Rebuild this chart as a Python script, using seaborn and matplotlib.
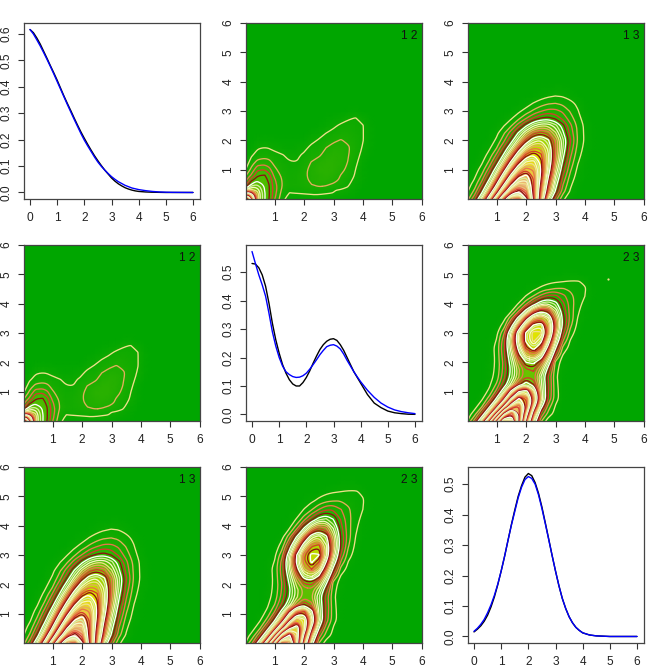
import numpy as np
import matplotlib
matplotlib.use("Agg")
import matplotlib.pyplot as plt
from matplotlib.colors import LinearSegmentedColormap
import seaborn as sns

# marginal curves
line_x = [0, .125, .25, .375, .5, .625, .75, .875, 1, 1.125, 1.25, 1.375, 1.5, 1.625, 1.75, 1.875, 2,
          2.125, 2.25, 2.375, 2.5, 2.625, 2.75, 2.875, 3, 3.125, 3.25, 3.375, 3.5, 3.625, 3.75, 3.875, 4,
          4.25, 4.5, 4.75, 5, 5.25, 5.5, 5.75, 6]
var1_black = [.617, .605, .585, .562, .535, .508, .48, .453, .425, .395, .365, .337, .31, .282, .255, .229, .205,
              .182, .16, .139, .12, .102, .085, .07, .055, .043, .033, .025, .018, .013, .009, .006, .004,
              .002, .001, .0005, 0, 0, 0, 0, 0]
var1_blue = [.617, .6, .578, .555, .53, .504, .477, .449, .42, .391, .362, .333, .305, .277, .25, .223, .198,
             .176, .155, .134, .115, .099, .085, .072, .06, .05, .041, .034, .027, .022, .017, .014, .011,
             .007, .004, .002, .001, .0005, .0003, .0001, 0]
var2_black = [.53, .528, .515, .49, .45, .39, .32, .262, .215, .175, .145, .122, .107, .1, .1, .112, .13,
              .153, .18, .205, .228, .245, .257, .264, .266, .26, .245, .225, .2, .175, .15, .13, .11,
              .07, .04, .024, .012, .006, .003, .001, .0005]
var2_blue = [.572, .53, .49, .455, .415, .355, .29, .24, .2, .17, .15, .14, .133, .13, .131, .136, .145,
             .159, .175, .192, .21, .225, .238, .243, .245, .24, .23, .212, .19, .17, .15, .132, .115,
             .085, .06, .04, .026, .016, .01, .006, .003]
var3_black = [.015, .024, .035, .05, .07, .097, .13, .17, .215, .263, .315, .367, .415, .46, .495, .523, .535,
              .528, .505, .47, .425, .373, .32, .266, .215, .167, .125, .092, .065, .045, .03, .02, .012,
              .005, .002, .001, 0, 0, 0, 0, 0]
var3_blue = [.017, .027, .04, .056, .078, .104, .135, .172, .215, .263, .315, .365, .41, .455, .49, .515, .525,
             .519, .5, .465, .42, .37, .318, .266, .215, .167, .125, .092, .065, .045, .03, .02, .012,
             .005, .002, .001, 0, 0, 0, 0, 0]

# joint surfaces, in contour level units
x_nodes = [0, .25, .5, .75, 1, 1.25, 1.5, 1.75, 2, 2.25, 2.5, 2.75, 3, 3.25, 3.5, 3.75, 4, 4.25, 4.5]

y13 = [0, .25, .5, .75, 1, 1.25, 1.5, 1.75, 2, 2.25, 2.5, 2.75, 3, 3.25, 3.5, 3.75, 4, 4.25]
y13_low = [0, .27, .55, .82, 1.1, 1.37, 1.65, 1.92, 2.2, 2.47, 2.75, 3.02, 3.3, 3.57, 3.87, 4.12, 4.4, 4.67]
rows13 = [
    [1.6, 4, 8.8, 16.4, 26.3, 36, 42.8, 43.5, 37.9, 28.4, 18, 8, 3.5, 1.2, .4, .1, .02, 0, 0],
    [.9, 2.4, 5.7, 11.2, 19.2, 28, 35.2, 38, 35.2, 28, 19.2, 11.2, 5.7, 2.4, .9, .3, .08, 0, 0],
    [.52, 1.5, 3.7, 7.8, 14, 22, 29.3, 33.6, 33.1, 28, 20.3, 12.6, 6.8, 3.1, 1.2, .4, .13, 0, 0],
    [.3, .9, 2.4, 5.4, 10.3, 17, 24.2, 29.5, 30.9, 27.8, 21.4, 14.2, 8.1, 3.9, 1.65, .6, .2, 0, 0],
    [.1, .54, 1.5, 3.6, 7.3, 12.8, 19.3, 25, 27.9, 26.7, 21.9, 15.4, 9.3, 4.8, 2.2, .82, .27, 0, 0],
    [.05, .3, .9, 2.3, 5, 9.3, 14.9, 20.6, 24.3, 24.7, 21.5, 16.1, 10.4, 5.7, 2.7, 1.1, .38, .1, 0],
    [.02, .17, .52, 1.4, 3.3, 6.5, 11, 16.2, 20.4, 22, 20.4, 16.2, 11.1, 6.5, 3.3, 1.4, .52, .15, 0],
    [0, .09, .3, .83, 2, 4.4, 7.9, 12.3, 16.4, 18.8, 18.5, 15.6, 11.3, 7.1, 3.8, 1.74, .68, .23, 0],
    [0, .04, .15, .47, 1.2, 2.8, 5.3, 8.8, 12.5, 15.2, 16, 14.3, 11, 7.3, 4.2, 2, .85, .3, 0],
    [0, 0, .1, .3, .8, 1.9, 3.7, 6.3, 9.2, 11.6, 12.5, 11.6, 9.2, 6.3, 3.7, 1.9, .8, .3, 0],
    [0, 0, 0, .14, .4, 1, 2, 3.7, 5.8, 7.8, 8.9, 8.8, 7.4, 5.4, 3.3, 1.8, .8, .3, 0],
    [0, 0, 0, 0, .16, .42, .93, 1.8, 3, 4.2, 5.1, 5.4, 4.8, 3.7, 2.5, 1.4, .55, .15, 0],
    [0, 0, 0, 0, 0, .1, .3, .78, 1.4, 2.2, 2.9, 3.35, 3.3, 2.8, 1.9, 1.1, .4, .1, 0],
    [0, 0, 0, 0, 0, 0, .13, .3, .55, 1.1, 1.55, 1.95, 2.05, 1.8, 1.35, .8, .25, 0, 0],
    [0, 0, 0, 0, 0, 0, 0, 0, .15, .3, .6, .88, 1.04, .95, .65, .3, .1, 0, 0],
    [0, 0, 0, 0, 0, 0, 0, 0, 0, .1, .2, .33, .42, .4, .25, .1, .03, 0, 0],
    [0, 0, 0, 0, 0, 0, 0, 0, 0, 0, 0, .1, .13, .12, .08, 0, 0, 0, 0],
    [0, 0, 0, 0, 0, 0, 0, 0, 0, 0, 0, 0, 0, 0, 0, 0, 0, 0, 0],
]

y23 = [0, .25, .5, .75, 1, 1.25, 1.5, 1.75, 2, 2.25, 2.5, 2.75, 3, 3.25, 3.5, 3.75, 4, 4.25, 4.5, 4.75, 5, 5.25]
y23_low = [0, .26, .52, .78, 1.05, 1.31, 1.57, 1.82, 2.06, 2.3, 2.53, 2.77, 3, 3.31, 3.62, 3.92, 4.23, 4.54, 4.85, 5.16, 5.47, 5.78]
rows23 = [
    [1, 3.5, 9, 20, 36, 50, 49, 36, 20, 8, 2.2, .4, .05, 0, 0, 0, 0, 0, 0],
    [.4, 1.6, 4.5, 10.5, 22, 37, 44, 37, 24, 11.5, 4, 1.7, .6, .1, 0, 0, 0, 0, 0],
    [.1, .6, 2, 5.5, 12, 22, 33, 36, 28, 16, 7, 2.6, .9, .2, .05, 0, 0, 0, 0],
    [0, .2, .9, 2.6, 6.5, 13, 23, 30.5, 28, 19, 9.5, 4, 1.4, .4, .1, 0, 0, 0, 0],
    [0, .05, .4, 1.3, 3.5, 8, 15, 22, 23.5, 17, 9, 4.2, 1.4, .4, .1, 0, 0, 0, 0],
    [0, 0, .2, .8, 2.2, 4.8, 8.5, 12.5, 15, 13, 8.5, 4.3, 1.3, .35, .08, 0, 0, 0, 0],
    [0, 0, .1, .55, 1.5, 3.8, 6.8, 10, 12, 11.5, 8, 4, 1.2, .35, .1, 0, 0, 0, 0],
    [0, 0, .08, .5, 1.3, 3.5, 6.5, 9.8, 11.8, 12.2, 9.5, 5.2, 1.3, .5, .15, 0, 0, 0, 0],
    [0, 0, .06, .45, 1.25, 3.4, 7, 11, 14, 14.5, 12, 7.3, 1.7, .5, .15, .05, 0, 0, 0],
    [0, 0, .05, .4, 1.3, 3.8, 8, 13, 17.5, 19, 16, 10, 4, 1, .35, .1, 0, 0, 0],
    [0, 0, .04, .4, 1.4, 4, 9, 15, 20.5, 23, 20, 13, 6.2, 1.8, .65, .15, 0, 0, 0],
    [0, 0, .02, .25, 1.1, 3.8, 9.5, 16.5, 22.5, 25.5, 23, 16, 8.4, 3.2, 1, .25, .05, 0, 0],
    [0, 0, 0, .1, .8, 3, 8.5, 16, 22.5, 25.7, 25.3, 18.5, 10.3, 4.4, 1.6, .45, .1, 0, 0],
    [0, 0, 0, 0, .3, 1.6, 5.5, 11.5, 18, 22.5, 23.5, 18.5, 11.5, 5.6, 2.3, .75, .2, 0, 0],
    [0, 0, 0, 0, .1, .7, 2.9, 7, 12.5, 17.5, 19, 16.5, 10.8, 5.6, 2.7, 1, .3, .05, 0],
    [0, 0, 0, 0, 0, .2, .9, 3, 6.8, 11, 13.5, 12.5, 8.8, 5, 2.6, 1.2, .4, .1, 0],
    [0, 0, 0, 0, 0, 0, .3, 1.1, 2.8, 5, 7.3, 8, 6.6, 4.3, 2.6, 1.4, .7, .15, 0],
    [0, 0, 0, 0, 0, 0, .05, .3, 1.1, 2.1, 3.4, 4.4, 4.4, 3.4, 2.4, 1.5, 1, .25, 0],
    [0, 0, 0, 0, 0, 0, 0, .05, .3, .75, 1.3, 1.85, 2.1, 2.1, 1.8, 1.4, 1.1, .3, 0],
    [0, 0, 0, 0, 0, 0, 0, 0, .05, .2, .4, .65, .88, 1, 1.08, 1.08, .85, .2, 0],
    [0, 0, 0, 0, 0, 0, 0, 0, 0, 0, .05, .1, .15, .25, .3, .3, .15, .05, 0],
    [0, 0, 0, 0, 0, 0, 0, 0, 0, 0, 0, 0, 0, 0, 0, 0, 0, 0, 0],
]

# panel 12 has a sharp corner, so its nodes are tighter there; one list per x
x12 = [0, .1, .2, .3, .4, .5, .65, .8, 1, 1.25, 1.5, 1.75, 2, 2.25, 2.5, 2.75, 3, 3.25, 3.5, 3.75, 4, 4.25, 4.5]
x12_low = [0, .1, .2, .3, .4, .5, .65, .8, 1, 1.23, 1.46, 1.7, 1.94, 2.18, 2.43, 2.67, 2.92, 3.16, 3.4, 3.65, 3.89, 4.13, 4.37]
y12 = [0, .1, .2, .3, .4, .5, .65, .8, 1, 1.25, 1.5, 1.75, 2, 2.25, 2.5, 2.75, 3, 3.25]
y12_low = [0, .1, .2, .3, .39, .48, .62, .76, .95, 1.18, 1.41, 1.64, 1.87, 2.1, 2.33, 2.56, 2.79, 3.02]
cols12 = [
    [32, 22, 14, 8, 5.2, 3.6, 2.6, 1.85, .97, .4, .15, .05, 0, 0, 0, 0, 0, 0],
    [26, 21, 14.5, 9.5, 6.5, 4.8, 3.5, 2.6, 1.6, .9, .4, .1, 0, 0, 0, 0, 0, 0],
    [20, 17, 13, 9.5, 7.7, 6, 4.7, 3.2, 2.3, 1.5, .85, .3, .1, 0, 0, 0, 0, 0],
    [14, 13, 11, 9, 8, 6.6, 5.2, 4, 3, 1.9, 1.1, .6, .2, 0, 0, 0, 0, 0],
    [10, 10, 9.5, 8.7, 7.6, 6.8, 5.6, 4.8, 3.8, 2.3, 1.35, .85, .3, 0, 0, 0, 0, 0],
    [8, 8, 7.9, 7.5, 7, 6.3, 5.4, 5, 3.9, 2.4, 1.5, .95, .35, .05, 0, 0, 0, 0],
    [6.1, 6.1, 6.1, 6, 5.9, 5.7, 5.4, 5.1, 4, 2.45, 1.6, 1, .4, .05, 0, 0, 0, 0],
    [5, 5.1, 5.1, 5.1, 5.1, 5, 4.8, 4.4, 3.4, 2.3, 1.55, .95, .35, .05, 0, 0, 0, 0],
    [3, 3.2, 3.3, 3.4, 3.4, 3.3, 3.1, 2.7, 2.2, 1.7, 1.25, .75, .3, 0, 0, 0, 0, 0],
    [1.3, 1.45, 1.6, 1.8, 1.95, 2, 1.95, 1.8, 1.55, 1.25, 1.05, .55, .2, 0, 0, 0, 0, 0],
    [.55, .75, .98, 1.1, 1.25, 1.4, 1.35, 1.3, 1.2, 1.05, .8, .35, .15, 0, 0, 0, 0, 0],
    [.4, .7, 1.02, 1.15, 1.3, 1.4, 1.4, 1.4, 1.3, 1.02, .85, .5, .2, 0, 0, 0, 0, 0],
    [.4, .85, 1.05, 1.25, 1.5, 1.65, 1.75, 1.8, 1.75, 1.55, 1.15, .75, .35, .1, 0, 0, 0, 0],
    [.45, .9, 1.1, 1.4, 1.75, 2, 2.2, 2.3, 2.3, 2.05, 1.65, 1.25, .75, .3, .1, 0, 0, 0],
    [.5, .9, 1.1, 1.45, 1.95, 2.25, 2.5, 2.6, 2.75, 2.55, 1.8, 1.45, 1.1, .55, .2, .05, 0, 0],
    [.55, .8, 1.05, 1.35, 1.9, 2.1, 2.5, 2.75, 2.9, 2.85, 2.45, 2, 1.5, 1, .45, .15, 0, 0],
    [.55, .75, .98, 1.05, 1.7, 1.9, 2.3, 2.6, 2.8, 2.85, 2.65, 2.3, 1.85, 1.3, .8, .3, .08, 0],
    [.4, .6, .8, .9, 1.3, 1.55, 1.85, 1.95, 2.35, 2.55, 2.5, 2.3, 2.05, 1.6, 1.2, .5, .12, 0],
    [.2, .35, .5, .7, .95, 1.1, 1.3, 1.5, 1.7, 1.95, 2.05, 2.1, 1.85, 1.55, 1.3, .9, .2, .05],
    [.1, .2, .25, .35, .5, .6, .75, .9, 1, 1.2, 1.5, 1.6, 1.45, 1.25, 1.2, 1.05, .3, .05],
    [.03, .05, .05, .1, .15, .2, .25, .3, .35, .45, .65, .9, 1.05, 1.05, 1.05, .65, .1, 0],
    [0, 0, 0, 0, 0, .02, .05, .05, .08, .12, .2, .3, .35, .35, .3, .15, 0, 0],
    [0, 0, 0, 0, 0, 0, 0, 0, 0, 0, 0, 0, 0, 0, 0, 0, 0, 0],
]

stray_x = [4.78]
stray_y = [4.85]

contour_cycle = ['#EFE08A', '#E3AE5C', '#E8754A', '#D43A2E', '#8E0F12', '#FFFFFF', '#D6F0A0', '#F6F6C4']
terrain = LinearSegmentedColormap.from_list(
    'terrain_r', [(0, '#00A600'), (.5, '#E6E600'), (.75, '#ECB176'), (1, '#F2F2F2')])

sns.set_style('ticks')
plt.rcParams['font.family'] = ['Liberation Sans', 'DejaVu Sans']

fig = plt.figure(figsize=(6.67, 6.67), dpi=100)
lefts = [23.5, 245.5, 467.5]
tops = [23, 245, 467]
SIZE = 176


def make_axes(row, col):
    ax = fig.add_axes([lefts[col] / 667, 1 - (tops[row] + SIZE) / 667, SIZE / 667, SIZE / 667])
    ax.tick_params(axis='x', length=4.3, width=.8, color='#333333', labelsize=8.6, pad=4.8, labelcolor='#222222')
    ax.tick_params(axis='y', length=4.3, width=.8, color='#333333', labelsize=8.6, pad=3.6, labelcolor='#222222')
    for s in ax.spines.values():
        s.set_linewidth(.9)
        s.set_color('#444444')
    return ax


def round_corners(seg, passes=3):
    # corner cutting so the grid's polygon edges do not show
    closed = np.allclose(seg[0], seg[-1])
    for _ in range(passes):
        if len(seg) < 3:
            break
        a, b = seg[:-1], seg[1:]
        cut = np.empty((2 * len(a), 2))
        cut[0::2] = .75 * a + .25 * b
        cut[1::2] = .25 * a + .75 * b
        if closed:
            seg = np.vstack([cut, cut[:1]])
        else:
            seg = np.vstack([seg[:1], cut, seg[-1:]])
    return seg


def heat_panel(row, col, x, y, z, levels, vmax, label):
    ax = make_axes(row, col)
    # zero margin out to the edge of the panel
    xp = np.append(x, 6)
    yp = np.append(y, 6)
    zp = np.zeros((len(yp), len(xp)))
    zp[:len(y), :len(x)] = z
    ax.pcolormesh(xp, yp, zp, cmap=terrain, vmin=0, vmax=vmax, shading='gouraud')
    cs = ax.contour(xp, yp, zp, levels=levels, linewidths=0)
    for i, segs in enumerate(cs.allsegs):
        for seg in segs:
            if len(seg) == 0:
                continue
            smooth = round_corners(seg)
            ax.plot(smooth[:, 0], smooth[:, 1], color=contour_cycle[i % 8], lw=.95)
    ax.set_xlim(0, 6)
    ax.set_ylim(0, 6)
    ax.set_xticks(range(1, 7))
    ax.set_yticks(range(1, 7))
    plt.setp(ax.get_yticklabels(), rotation=90, va='center')
    ax.text(5.57, 5.56, label, ha='center', va='center', fontsize=8.6, color='#111111')
    return ax


def line_panel(row, col, black, blue, top):
    ax = make_axes(row, col)
    sns.lineplot(x=line_x, y=black, color='black', linewidth=1.0, ax=ax)
    sns.lineplot(x=line_x, y=blue, color='#0000FF', linewidth=1.0, ax=ax)
    ax.set_xlim(-.24, 6.24)
    ax.set_ylim(-.04 * top, 1.04 * top)
    ax.set_xticks(range(0, 7))
    ticks = np.arange(0, top, .1)
    ax.set_yticks(ticks)
    ax.set_yticklabels([f'{t:.1f}' for t in ticks])
    plt.setp(ax.get_yticklabels(), rotation=90, va='center')
    return ax


z12 = np.array(cols12).T
z13 = np.array(rows13)
z23 = np.array(rows23)

line_panel(0, 0, var1_black, var1_blue, .617)
heat_panel(0, 1, x12, y12, z12, np.arange(1, 33), 32, '1 2')
heat_panel(0, 2, x_nodes, y13, z13, np.arange(1, 44), 44, '1 3')

heat_panel(1, 0, x12_low, y12_low, z12, np.arange(1, 33), 32, '1 2')
line_panel(1, 1, var2_black, var2_blue, .572)
ax23 = heat_panel(1, 2, x_nodes, y23, z23, np.arange(1, 50), 52, '2 3')
ax23.plot(stray_x, stray_y, 'o', ms=1.6, mew=0, color='#EFE08A')

heat_panel(2, 0, x_nodes, y13_low, z13, np.arange(1, 44), 44, '1 3')
heat_panel(2, 1, x_nodes, y23_low, z23, np.arange(1, 50, 1.15), 60, '2 3')
line_panel(2, 2, var3_black, var3_blue, .535)

fig.savefig('out.png', dpi=100)
